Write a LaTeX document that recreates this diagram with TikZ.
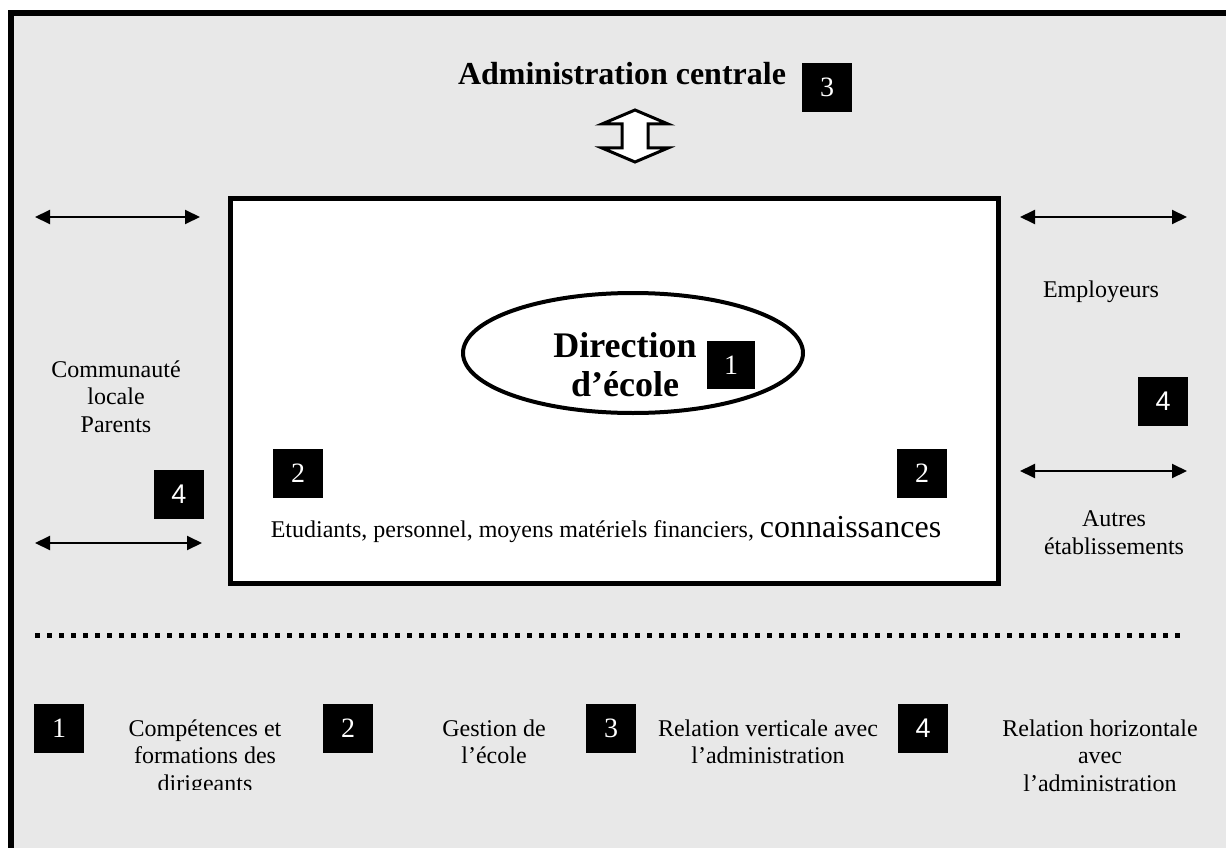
\documentclass[tikz,border=0pt]{standalone}
\usepackage{fontspec}
\setmainfont{Liberation Serif}
\newfontfamily\numsans{Liberation Sans}
\usetikzlibrary{arrows.meta,shapes.geometric}
\definecolor{bggray}{RGB}{232,232,232}
\tikzset{
  numbox/.style={fill=black, text=white, minimum width=50pt, minimum height=49pt,
    inner sep=0pt, font=\fontsize{28}{28}\selectfont},
  sansnum/.style={numbox, font=\numsans\fontsize{27}{27}\selectfont},
  plain/.style={align=center, inner sep=0pt, font=\fontsize{24}{27.5}\selectfont},
  link/.style={line width=2pt, {Triangle[length=15pt,width=14pt]}-{Triangle[length=15pt,width=14pt]}},
}
\begin{document}
\begin{tikzpicture}[x=1pt,y=-1pt]
\useasboundingbox (0,0) rectangle (1226,848);
% page background and frame
\fill[bggray] (8,10) rectangle (1226,848);
\draw[line width=6pt] (11,848) -- (11,13) -- (1226,13);

% central administration
\node[anchor=base, inner sep=0pt, font=\bfseries\fontsize{32}{32}\selectfont] (admin) at (622,85) {Administration centrale};
\node[numbox] (n3top) at (827,87.5) {3};

% vertical double arrow
\filldraw[fill=white, draw=black, line width=3pt, line join=miter]
  (635,110) -- (668,124) -- (648,124) -- (648,148) -- (668,148) -- (635,162)
  -- (602,148) -- (622,148) -- (622,124) -- (602,124) -- cycle;

% school box
\draw[line width=5pt, fill=white] (230,198) rectangle (998,583);
\node[ellipse, draw, line width=4pt, fill=white, minimum width=340pt, minimum height=120pt] (dir) at (633,353) {};
\node[align=center, inner sep=0pt, font=\bfseries\fontsize{36}{39}\selectfont, anchor=base] (dirtxt) at (625,396) {Direction\\d’école};
\node[numbox, minimum width=48pt, minimum height=48pt] (n1in) at (731,365) {1};

\node[numbox] (n2l) at (298,473) {2};
\node[numbox] (n2r) at (922,473) {2};
\node[anchor=base, inner sep=0pt, font=\fontsize{24}{24}\selectfont] (res) at (606,537)
  {Etudiants, personnel, moyens matériels financiers, {\fontsize{32}{32}\selectfont connaissances}};

% left partners
\coordinate (la1) at (35,217);
\coordinate (la2) at (200,217);
\draw[link] (la1) -- (la2);
\node[plain, anchor=base] (comm) at (116,432) {Communauté\\locale\\Parents};
\node[sansnum] (n4l) at (179,494) {4};
\coordinate (lb1) at (35,543);
\coordinate (lb2) at (202,543);
\draw[link] (lb1) -- (lb2);

% right partners
\coordinate (ra1) at (1020,217);
\coordinate (ra2) at (1187,217);
\draw[link] (ra1) -- (ra2);
\node[plain, anchor=base] (empl) at (1101,297) {Employeurs};
\node[sansnum] (n4r) at (1163,401) {4};
\coordinate (rb1) at (1020,471);
\coordinate (rb2) at (1187,471);
\draw[link] (rb1) -- (rb2);
\node[plain, anchor=base] (autres) at (1114,554) {Autres\\établissements};

% separator
\coordinate (sepl) at (35,635);
\coordinate (sepr) at (1182,635);
\draw[line width=5pt, dash pattern=on 5pt off 7pt] (sepl) -- (sepr);

% legend
\node[numbox] (k1) at (59,728) {1};
\begin{scope}
  \clip (100,690) rectangle (320,789);
  \node[plain, anchor=base] (t1) at (205,791) {Compétences et\\formations des\\dirigeants};
\end{scope}
\node[numbox] (k2) at (348,728) {2};
\node[plain, anchor=base] (t2) at (494,763.5) {Gestion de\\l’école};
\node[numbox] (k3) at (611,728) {3};
\node[plain, anchor=base] (t3) at (768,763.5) {Relation verticale avec\\l’administration};
\node[sansnum] (k4) at (923,728) {4};
\node[plain, anchor=base] (t4) at (1100,791) {Relation horizontale\\avec\\l’administration};
\end{tikzpicture}
\end{document}
